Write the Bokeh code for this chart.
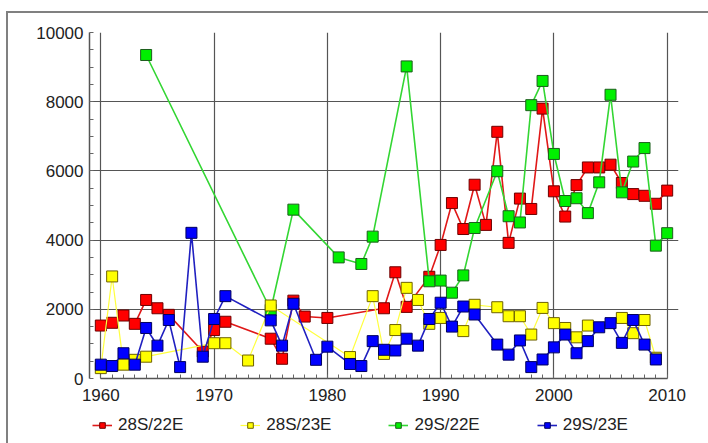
from bokeh.plotting import figure
from bokeh.layouts import column
from bokeh.models import Range1d, Legend, LegendItem, FixedTicker
from bokeh.embed import file_html
from bokeh.resources import INLINE

# 28S/22E (red)
years_28s22e = [1960, 1961, 1962, 1963, 1964, 1965, 1966, 1969, 1970, 1971, 1975, 1976, 1977, 1978, 1980,
                1985, 1986, 1987, 1989, 1990, 1991, 1992, 1993, 1994, 1995, 1996, 1997, 1998, 1999, 2000,
                2001, 2002, 2003, 2004, 2005, 2006, 2007, 2008, 2009, 2010]
vals_28s22e = [1530, 1610, 1820, 1580, 2270, 2030, 1840, 780, 1400, 1640, 1150, 570, 2250, 1790, 1750,
               2030, 3070, 2070, 2940, 3860, 5070, 4320, 5600, 4440, 7130, 3920, 5200, 4900, 7800, 5410,
               4680, 5590, 6100, 6100, 6180, 5650, 5330, 5280, 5050, 5430]

# 28S/23E (yellow)
years_28s23e = [1960, 1961, 1962, 1963, 1964, 1970, 1971, 1973, 1975, 1982, 1984, 1985, 1986, 1987, 1988,
                1989, 1990, 1992, 1993, 1995, 1996, 1997, 1998, 1999, 2000, 2001, 2002, 2003, 2006,
                2007, 2008, 2009]
vals_28s23e = [300, 2950, 400, 540, 630, 1020, 1020, 520, 2110, 620, 2380, 710, 1400, 2620, 2270,
               1580, 1750, 1370, 2130, 2060, 1800, 1800, 1270, 2040, 1600, 1460, 1190, 1530, 1750,
               1310, 1690, 600]

# 29S/22E (green)
years_29s22e = [1964, 1975, 1977, 1981, 1983, 1984, 1987, 1989, 1990, 1991, 1992, 1993, 1995, 1996, 1997,
                1998, 1999, 2000, 2001, 2002, 2003, 2004, 2005, 2006, 2007, 2008, 2009, 2010]
vals_29s22e = [9350, 1980, 4880, 3500, 3310, 4100, 9020, 2810, 2830, 2480, 2980, 4350, 5990, 4690, 4510,
               7900, 8600, 6490, 5130, 5210, 4780, 5670, 8200, 5380, 6270, 6660, 3840, 4200]

# 29S/23E (blue)
years_29s23e = [1960, 1961, 1962, 1963, 1964, 1965, 1966, 1967, 1968, 1969, 1970, 1971, 1975, 1976, 1977,
                1979, 1980, 1982, 1983, 1984, 1985, 1986, 1987, 1988, 1989, 1990, 1991, 1992, 1993, 1995,
                1996, 1997, 1998, 1999, 2000, 2001, 2002, 2003, 2004, 2005, 2006, 2007, 2008, 2009]
vals_29s23e = [400, 360, 730, 400, 1460, 950, 1690, 330, 4210, 630, 1720, 2380, 1680, 950, 2160,
               540, 920, 420, 360, 1080, 830, 810, 1150, 950, 1720, 2190, 1500, 2080, 1850, 980,
               690, 1100, 330, 550, 900, 1270, 730, 1080, 1480, 1600, 1030, 1690, 980, 550]

x_ticks = [1960, 1970, 1980, 1990, 2000, 2010]
y_ticks = [0, 2000, 4000, 6000, 8000, 10000]

series = [
    ("28S/22E", years_28s22e, vals_28s22e, "#ff0000", "#e01818", "#6e0000", 1.6),
    ("29S/22E", years_29s22e, vals_29s22e, "#00f000", "#33d633", "#1d5e1d", 1.6),
    ("28S/23E", years_28s23e, vals_28s23e, "#ffff00", "#ffff40", "#6e6200", 1.2),
    ("29S/23E", years_29s23e, vals_29s23e, "#0000ff", "#2020c0", "#00005e", 1.6),
]
legend_order = ["28S/22E", "28S/23E", "29S/22E", "29S/23E"]

FONT = "Liberation Sans"

p = figure(frame_width=589, frame_height=346, output_backend="svg", toolbar_location=None,
           x_range=Range1d(1959, 2011), y_range=Range1d(0, 10000),
           min_border_left=89, min_border_right=30, min_border_top=32, min_border_bottom=30)
p.background_fill_color = "white"
p.border_fill_alpha = 0
p.outline_line_color = None

p.xgrid.grid_line_color = "#555555"
p.ygrid.grid_line_color = "#555555"
p.xgrid.grid_line_width = 1.2
p.ygrid.grid_line_width = 1.2
p.xaxis.ticker = FixedTicker(ticks=x_ticks, minor_ticks=list(range(1960, 2011)))
p.yaxis.ticker = FixedTicker(ticks=y_ticks, minor_ticks=list(range(0, 10001, 500)))
p.xaxis.bounds = (1960, 2010)
p.yaxis.bounds = (0, 10000)
for ax in (p.xaxis[0], p.yaxis[0]):
    ax.axis_line_color = "#555555"
    ax.axis_line_width = 1.5
    ax.major_tick_in = 0
    ax.major_tick_out = 0
    ax.minor_tick_in = 4
    ax.minor_tick_out = 0
    ax.minor_tick_line_color = "#666666"
    ax.major_label_text_font = FONT
    ax.major_label_text_font_size = "17px"
    ax.major_label_text_color = "#222222"
p.yaxis.major_label_standoff = 6
p.xaxis.major_label_standoff = 10

# legend strip: same series drawn outside its visible range, so only the legend shows
lg = figure(width=708, height=35, output_backend="svg", toolbar_location=None,
            x_range=Range1d(0, 1), y_range=Range1d(0, 1), min_border=0)
lg.axis.visible = False
lg.grid.visible = False
lg.outline_line_color = None
lg.background_fill_alpha = 0
lg.border_fill_alpha = 0

items = {}
for name, xs, ys, fill, lc, oc, lw in series:
    p.line(xs, ys, line_color=lc, line_width=lw)
    p.scatter(xs, ys, marker="square", size=11, fill_color=fill, line_color=oc, line_width=1)
    r1 = lg.line(xs, ys, line_color=lc, line_width=lw)
    r2 = lg.scatter(xs, ys, marker="square", size=12, fill_color=fill, line_color=oc, line_width=1)
    items[name] = LegendItem(label=name, renderers=[r1, r2])

legend = Legend(items=[items[n] for n in legend_order], orientation="horizontal",
                location=(3, 8), spacing=57, glyph_width=20, glyph_height=14,
                label_standoff=6, border_line_color=None, background_fill_alpha=0,
                label_text_font=FONT, label_text_font_size="17px", label_text_color="#222222",
                padding=0, margin=0)
lg.add_layout(legend, "center")

frame_css = ("linear-gradient(#808080,#808080) 6px 11px / 2px 440px no-repeat, "
             "linear-gradient(#808080,#808080) 6px 11px / 702px 2px no-repeat, white")
layout = column(p, lg, spacing=0, styles={"background": frame_css})

open("out.html", "w").write(file_html(layout, INLINE))
